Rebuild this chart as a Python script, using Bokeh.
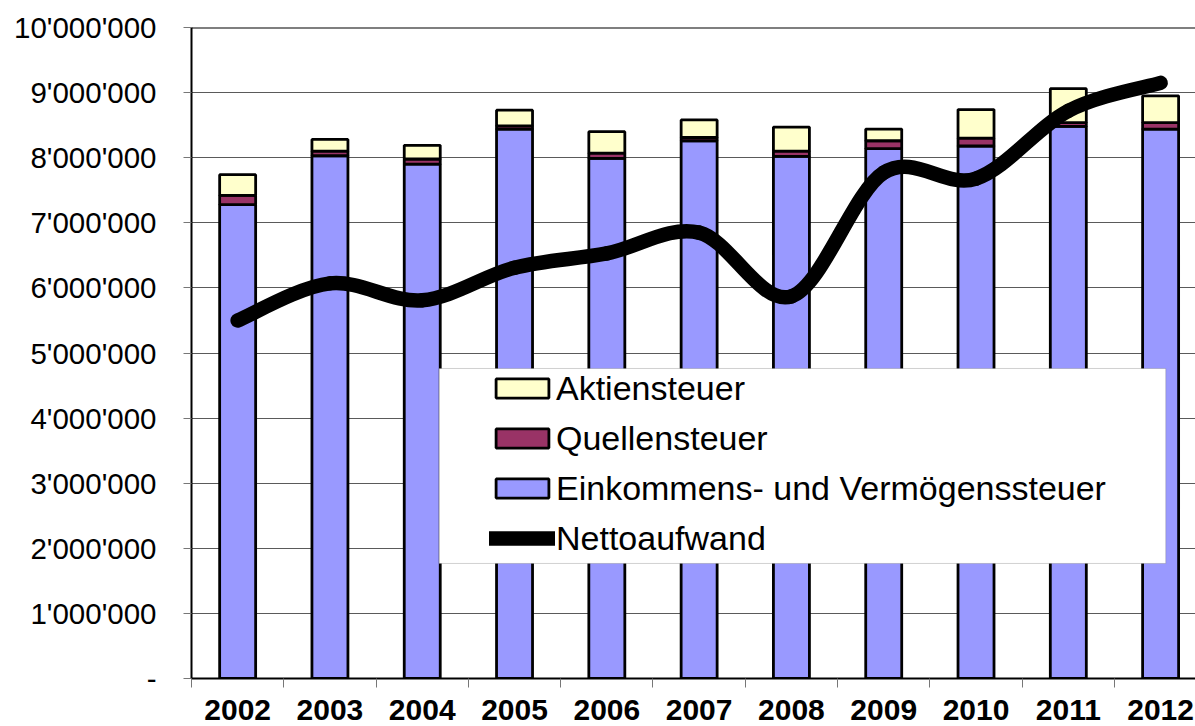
import numpy as np
from bokeh.plotting import figure
from bokeh.models import (Range1d, FixedTicker, Legend, LegendItem, BoxAnnotation,
                          Span, ColumnDataSource)
from bokeh.embed import file_html
from bokeh.resources import INLINE

years = ["2002", "2003", "2004", "2005", "2006", "2007", "2008", "2009", "2010", "2011", "2012"]
einkommen = [7.28e6, 8.03e6, 7.90e6, 8.44e6, 7.99e6, 8.26e6, 8.02e6, 8.14e6, 8.18e6, 8.48e6, 8.44e6]
quellen = [0.14e6, 0.07e6, 0.08e6, 0.05e6, 0.08e6, 0.05e6, 0.08e6, 0.12e6, 0.12e6, 0.06e6, 0.10e6]
aktien = [0.32e6, 0.18e6, 0.21e6, 0.24e6, 0.33e6, 0.27e6, 0.37e6, 0.18e6, 0.44e6, 0.52e6, 0.41e6]
netto = [5.50e6, 6.07e6, 5.81e6, 6.31e6, 6.53e6, 6.85e6, 5.87e6, 7.77e6, 7.68e6, 8.72e6, 9.15e6]

y_ticks = [0, 1000000, 2000000, 3000000, 4000000, 5000000, 6000000, 7000000, 8000000, 9000000, 10000000]
y_labels = ["-", "1'000'000", "2'000'000", "3'000'000", "4'000'000", "5'000'000",
            "6'000'000", "7'000'000", "8'000'000", "9'000'000", "10'000'000"]

names = ["Einkommens- und Vermögenssteuer", "Quellensteuer", "Aktiensteuer", "Nettoaufwand"]
colors = ["#9999FF", "#993366", "#FFFFCC"]

x = np.arange(len(years))
src = ColumnDataSource(dict(x=x, E=einkommen, Q=quellen, A=aktien))

p = figure(width=1195, height=726, output_backend="svg", toolbar_location=None,
           x_range=Range1d(-0.5, 10.378), y_range=Range1d(0, 10000000),
           min_border_left=191, min_border_right=0, min_border_top=27, min_border_bottom=48)
p.outline_line_color = None
p.background_fill_color = "white"
p.border_fill_color = "white"

bars = p.vbar_stack(["E", "Q", "A"], x="x", width=0.39, source=src,
                    fill_color=colors, line_color="black", line_width=2.8)

# smoothed line (Bezier segments through data points)
n = len(netto)
xs = list(x.astype(float))
ys = netto
x0, y0, x1, y1, cx0, cy0, cx1, cy1 = [], [], [], [], [], [], [], []
for i in range(n - 1):
    im = max(i - 1, 0)
    ip = min(i + 2, n - 1)
    x0.append(xs[i]); y0.append(ys[i])
    x1.append(xs[i + 1]); y1.append(ys[i + 1])
    cx0.append(xs[i] + (xs[i + 1] - xs[im]) / 6.0)
    cy0.append(ys[i] + (ys[i + 1] - ys[im]) / 6.0)
    cx1.append(xs[i + 1] - (xs[ip] - xs[i]) / 6.0)
    cy1.append(ys[i + 1] - (ys[ip] - ys[i]) / 6.0)
line = p.bezier(x0=x0, y0=y0, x1=x1, y1=y1, cx0=cx0, cy0=cy0, cx1=cx1, cy1=cy1,
                line_color="black", line_width=14.5, line_cap="round")

# top border
p.add_layout(Span(location=10000000, dimension="width", line_color="black", line_width=2))

# axes
p.yaxis.ticker = FixedTicker(ticks=y_ticks, minor_ticks=[])
p.yaxis.major_label_overrides = {t: l for t, l in zip(y_ticks, y_labels)}
p.yaxis.axis_line_color = "black"
p.yaxis.axis_line_width = 2
p.yaxis.major_tick_line_color = "#777777"
p.yaxis.major_tick_out = 8
p.yaxis.major_tick_in = 0
p.yaxis.minor_tick_line_color = None
p.yaxis.major_label_standoff = 27
p.yaxis.major_label_text_font = "Liberation Sans"
p.yaxis.major_label_text_font_size = "29.5px"
p.yaxis.major_label_text_color = "black"

p.xaxis.ticker = FixedTicker(ticks=list(x), minor_ticks=[v - 0.5 for v in x] + [x[-1] + 0.5])
p.xaxis.major_label_overrides = {int(i): y for i, y in zip(x, years)}
p.xaxis.axis_line_color = "black"
p.xaxis.axis_line_width = 2
p.xaxis.major_tick_out = 0
p.xaxis.major_tick_in = 0
p.xaxis.minor_tick_out = 9
p.xaxis.minor_tick_in = 0
p.xaxis.minor_tick_line_color = "#777777"
p.xaxis.major_label_standoff = 12
p.xaxis.major_label_text_font = "Liberation Sans"
p.xaxis.major_label_text_font_style = "bold"
p.xaxis.major_label_text_font_size = "30px"
p.xaxis.major_label_text_color = "black"

p.xgrid.visible = False
p.ygrid.grid_line_color = "#5a5a5a"
p.ygrid.grid_line_width = 1

# legend box
p.add_layout(BoxAnnotation(left=2.183, right=10.056, bottom=1767000, top=4762000,
                           fill_color="white", fill_alpha=1.0,
                           line_color="#666666", line_width=1, level="annotation"))

legend = Legend(items=[
    LegendItem(label="Aktiensteuer", renderers=[bars[2]]),
    LegendItem(label="Quellensteuer", renderers=[bars[1]]),
    LegendItem(label=names[0], renderers=[bars[0]]),
    LegendItem(label="Nettoaufwand", renderers=[line]),
], location=(298, 115), padding=0, margin=0, spacing=0,
    glyph_width=66, glyph_height=24, label_height=50, label_standoff=1,
    label_text_font="Liberation Sans", label_text_font_size="34px",
    label_text_color="black",
    border_line_color=None, background_fill_alpha=0.0)
p.add_layout(legend)

open("out.html", "w").write(file_html(p, INLINE))
